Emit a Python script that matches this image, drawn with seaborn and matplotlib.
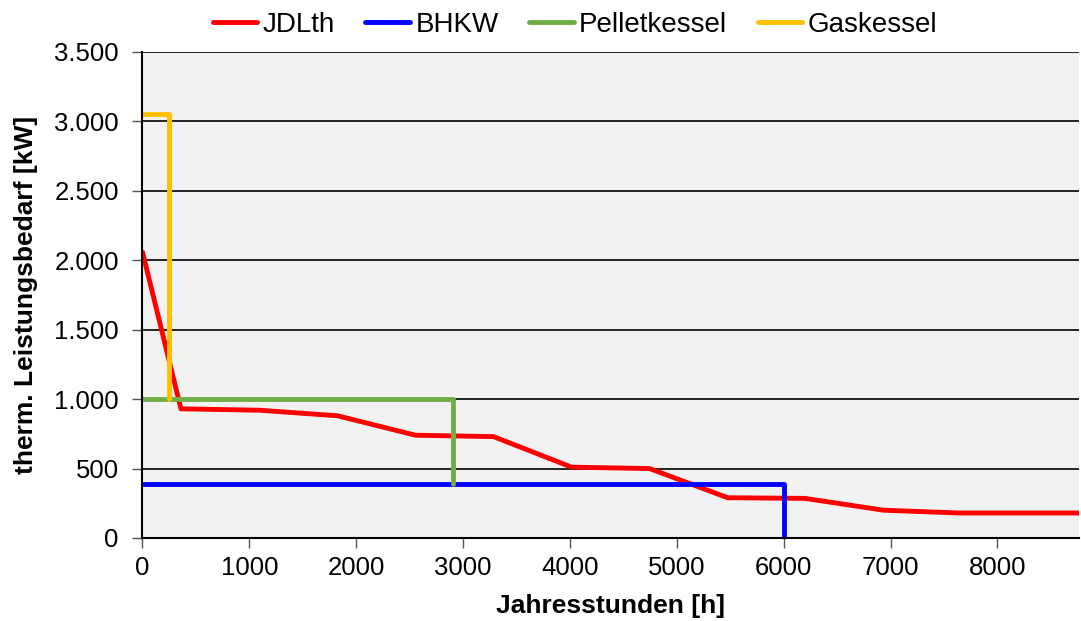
import matplotlib
matplotlib.use("Agg")
import matplotlib.pyplot as plt
import matplotlib.ticker as mticker
import seaborn as sns
import pandas as pd

# Data
jdl_x = [0, 360, 1095, 1825, 2555, 3285, 4015, 4745, 5475, 6200, 6935, 7640, 8760]
jdl_y = [2060, 930, 920, 880, 740, 730, 510, 500, 290, 285, 200, 180, 180]
bhkw_x = [0, 6000, 6000]
bhkw_y = [390, 390, 0]
pellet_x = [0, 2910, 2910]
pellet_y = [1000, 1000, 390]
gas_x = [0, 250, 250]
gas_y = [3050, 3050, 1000]
series_names = ["JDLth", "BHKW", "Pelletkessel", "Gaskessel"]
colors = ["#FF0000", "#0000FF", "#70AD47", "#FFC000"]
y_ticks = [0, 500, 1000, 1500, 2000, 2500, 3000, 3500]
x_ticks = [0, 1000, 2000, 3000, 4000, 5000, 6000, 7000, 8000]

sns.set_theme(style="white")
plt.rcParams['font.family'] = ['Liberation Sans', 'DejaVu Sans']
plt.rcParams['text.color'] = 'black'
plt.rcParams['axes.labelcolor'] = 'black'

fig = plt.figure(figsize=(10.81, 6.21), dpi=100)
ax = fig.add_axes([0.1318, 0.1337, 0.866, 0.7826])
ax.set_facecolor("#F2F2F2")

frames = []
for name, xs, ys in zip(series_names, [jdl_x, bhkw_x, pellet_x, gas_x], [jdl_y, bhkw_y, pellet_y, gas_y]):
    frames.append(pd.DataFrame({"h": xs, "kW": ys, "serie": name}))
df = pd.concat(frames, ignore_index=True)

for name, c in zip(series_names, colors):
    sub = df[df["serie"] == name]
    sns.lineplot(data=sub, x="h", y="kW", ax=ax, color=c, linewidth=3.5, sort=False,
                 estimator=None, errorbar=None, label=name,
                 solid_joinstyle="round", solid_capstyle="round")

ax.set_xlim(0, 8760)
ax.set_ylim(0, 3500)
ax.set_yticks(y_ticks)
ax.set_xticks(x_ticks)
ax.yaxis.set_major_formatter(mticker.FuncFormatter(lambda v, p: f"{int(v):,}".replace(",", ".")))
ax.grid(axis="y", color="black", linewidth=1.2, zorder=0)
ax.set_axisbelow(True)
for s in ["top", "right"]:
    ax.spines[s].set_visible(False)
for s in ["left", "bottom"]:
    ax.spines[s].set_color("black")
    ax.spines[s].set_linewidth(1.5)
ax.tick_params(axis="both", which="major", direction="out", length=7, width=1, color="#555555",
               labelsize=18.5, labelcolor="black", bottom=True, left=True)
ax.tick_params(axis="x", pad=6)
ax.tick_params(axis="y", pad=10)
ax.set_xlabel("Jahresstunden [h]", fontsize=19, fontweight="bold", labelpad=10, color="black")
ax.set_ylabel("therm. Leistungsbedarf [kW]", fontsize=19, fontweight="bold", labelpad=12, color="black")

leg = ax.legend(loc="lower center", bbox_to_anchor=(0.462, 1.0), ncol=4, frameon=False,
                fontsize=20, handlelength=1.6, handletextpad=0.2, columnspacing=1.1,
                borderaxespad=0.1)
for t in leg.get_texts():
    t.set_color("black")

fig.savefig("out.png", dpi=100)
